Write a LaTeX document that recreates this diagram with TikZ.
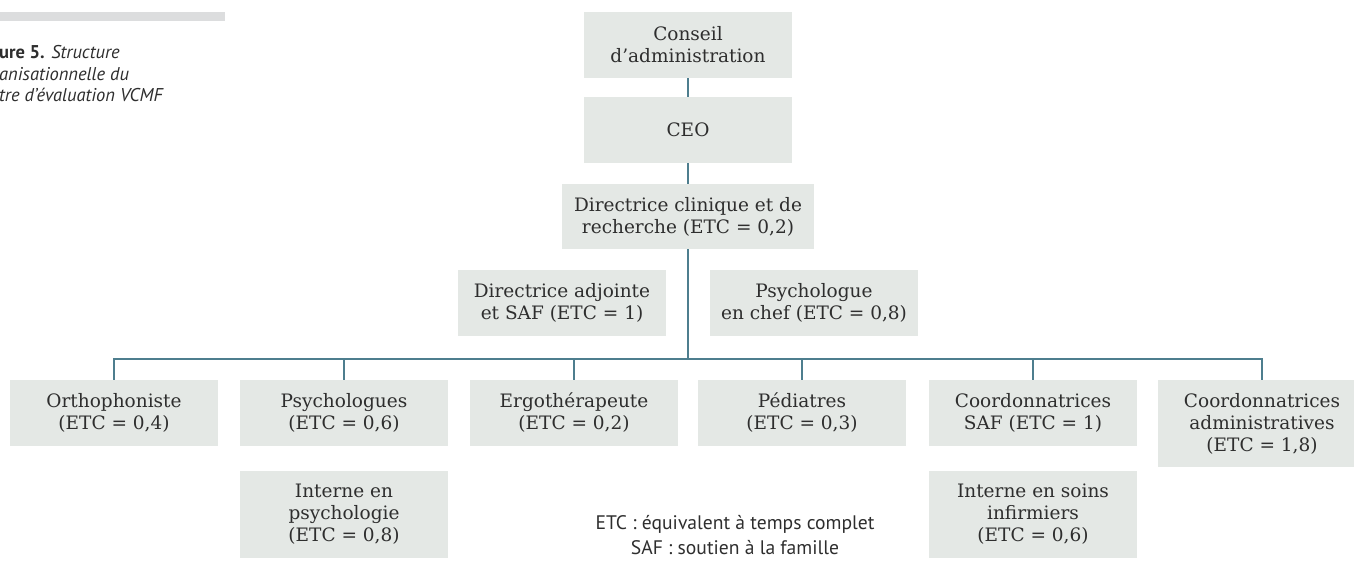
\documentclass[tikz,border=0pt]{standalone}
\usepackage{fontspec}
\setmainfont{DejaVu Serif}
\setsansfont{PT Sans}

\definecolor{boxgray}{HTML}{E4E8E5}
\definecolor{linkteal}{HTML}{4E7E8E}
\definecolor{inkgray}{HTML}{2E2E2E}
\definecolor{bargray}{HTML}{DCDDDE}

\begin{document}
\begin{tikzpicture}[x=1pt,y=-1pt]

\tikzset{unit/.style = {fill=boxgray, text=inkgray, minimum width=208pt, minimum height=66pt, inner sep=0pt, align=center, font=\fontsize{18.5}{22}\selectfont}}
\tikzset{edge/.style = {draw=linkteal, line width=2pt}}
\tikzset{note/.style = {text=inkgray, inner sep=0pt, font=\sffamily\fontsize{19.6}{25}\selectfont}}

\useasboundingbox (0,0) rectangle (1354,561);

%caption
\fill[bargray] (0,12) rectangle (225,21);
\node[note, anchor=north west, align=left, font=\sffamily\fontsize{18.5}{21.8}\selectfont] (cap) at (-1,45)
  {\textbf{ure 5.} \textit{Structure}\\ \textit{anisationnelle du}\\ \textit{tre d’évaluation VCMF}};

%boxes
\node[unit] (board) at (688,45) {Conseil\\ d’administration};
\node[unit] (ceo) at (688,130) {CEO};
\node[unit, minimum width=252pt, minimum height=65pt] (dir) at (688,216.5) {Directrice clinique et de\\ recherche (ETC = 0,2)};
\node[unit] (deputy) at (562,303) {Directrice adjointe\\ et SAF (ETC = 1)};
\node[unit] (chief) at (814,303) {Psychologue\\ en chef (ETC = 0,8)};

\node[unit] (ortho) at (114,413) {Orthophoniste\\ (ETC = 0,4)};
\node[unit] (psy) at (344,413) {Psychologues\\ (ETC = 0,6)};
\node[unit] (ergo) at (574,413) {Ergothérapeute\\ (ETC = 0,2)};
\node[unit] (ped) at (802,413) {Pédiatres\\ (ETC = 0,3)};
\node[unit] (saf) at (1033,413) {Coordonnatrices\\ SAF (ETC = 1)};
\node[unit, minimum height=87pt] (admin) at (1262,423.5) {Coordonnatrices\\ administratives\\ (ETC = 1,8)};

\node[unit, minimum height=87pt] (psyint) at (344,514.5) {Interne en\\ psychologie\\ (ETC = 0,8)};
\node[unit, minimum height=87pt] (nurse) at (1033,514.5) {Interne en soins\\ infirmiers\\ (ETC = 0,6)};

%legend
\node[note, align=center] (legend) at (735,535) {ETC : équivalent à temps complet\\ SAF : soutien à la famille};

%edges
\coordinate (hub) at (688,359);
\draw[edge] (board) -- (ceo);
\draw[edge] (ceo) -- (dir);
\draw[edge] (dir) -- (hub);
\foreach \n in {ortho, psy, ergo, ped, saf, admin}
  \draw[edge] (\n.north) |- (hub);

\end{tikzpicture}
\end{document}
